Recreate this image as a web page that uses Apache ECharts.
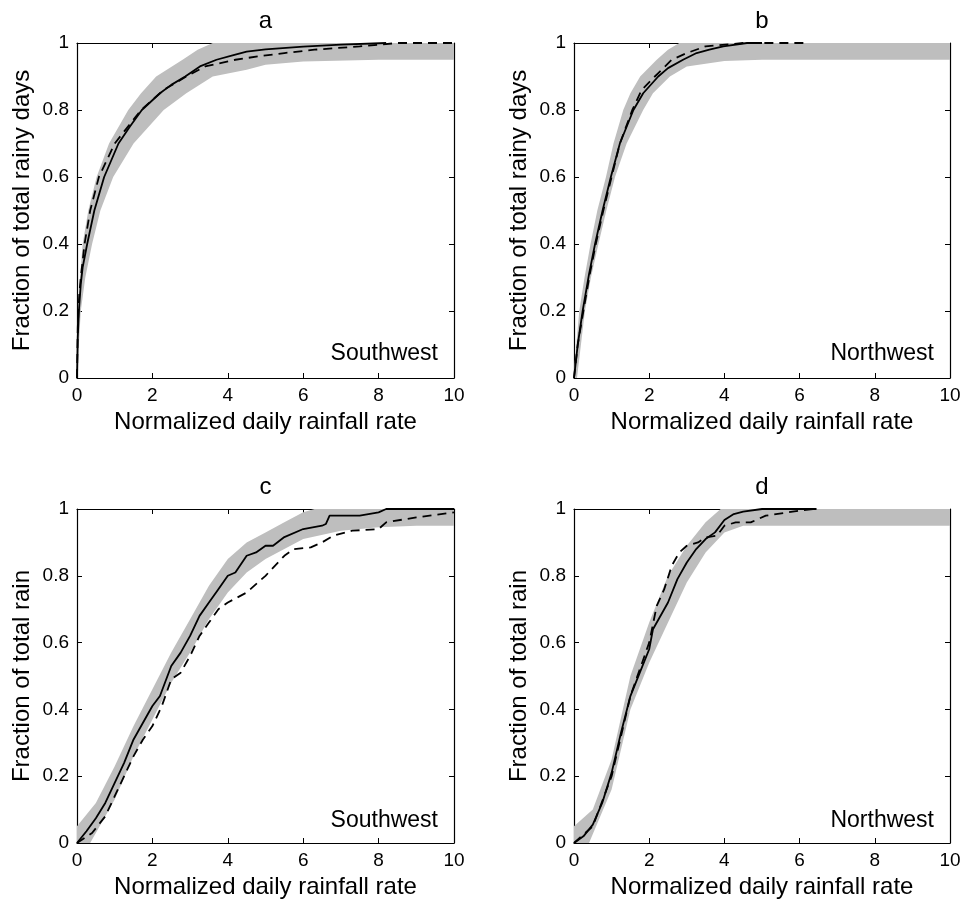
<!DOCTYPE html>
<html>
<head>
<meta charset="utf-8">
<script src="https://cdn.jsdelivr.net/npm/echarts@6/dist/echarts.min.js"></script>
<style>
html,body{margin:0;padding:0;background:#fff;}
#chart{width:966px;height:900px;}
</style>
</head>
<body>
<div id="chart"></div>
<script>
// ---- Data ----
const panelLetters = ['a', 'b', 'c', 'd'];
const regionNames = ['Southwest', 'Northwest', 'Southwest', 'Northwest'];
const yAxisTitles = ['Fraction of total rainy days', 'Fraction of total rainy days', 'Fraction of total rain', 'Fraction of total rain'];
const xAxisTitle = 'Normalized daily rainfall rate';
const xTicks = [0, 2, 4, 6, 8, 10];
const yTicks = [0, 0.2, 0.4, 0.6, 0.8, 1];

// Panel a: Southwest, fraction of rainy days
const aSolid = [[0,0],[0.02,0.12],[0.05,0.2],[0.1,0.28],[0.15,0.33],[0.27,0.4],[0.46,0.5],[0.72,0.6],[1.1,0.7],[1.4,0.75],[1.72,0.8],[2.2,0.85],[2.5,0.875],[2.87,0.9],[3.26,0.93],[3.7,0.95],[4.15,0.964],[4.5,0.974],[5.0,0.981],[6.0,0.989],[7.0,0.995],[8.2,1.0]];
const aDashed = [[0,0],[0.02,0.15],[0.06,0.25],[0.1,0.3],[0.2,0.4],[0.35,0.5],[0.58,0.6],[1.0,0.7],[1.7,0.8],[2.3,0.86],[2.9,0.9],[3.4,0.93],[4.2,0.95],[4.8,0.96],[5.5,0.97],[6.3,0.98],[7.5,0.99],[8.5,1.0],[10,1.0]];
const aBandUpper = [[0,0],[0.03,0.2],[0.08,0.3],[0.15,0.4],[0.3,0.5],[0.52,0.6],[0.85,0.7],[1.36,0.8],[1.7,0.85],[2.1,0.9],[2.8,0.95],[3.2,0.98],[3.6,1.0],[10,1.0]];
const aBandLower = [[0,0],[0.1,0.2],[0.22,0.3],[0.4,0.4],[0.62,0.5],[0.96,0.6],[1.5,0.7],[2.3,0.8],[2.9,0.85],[3.6,0.9],[4.5,0.92],[5,0.935],[6,0.945],[8,0.95],[10,0.95]];

// Panel b: Northwest, fraction of rainy days
const bSolid = [[0,0],[0.1,0.1],[0.23,0.2],[0.4,0.31],[0.56,0.4],[0.76,0.5],[0.98,0.6],[1.22,0.7],[1.58,0.8],[1.84,0.85],[2.24,0.9],[2.5,0.925],[2.9,0.95],[3.26,0.97],[3.6,0.98],[3.97,0.99],[4.6,1.0],[5.0,1.0]];
const bDashed = [[0,0],[0.1,0.1],[0.25,0.2],[0.42,0.31],[0.58,0.4],[0.78,0.5],[1.0,0.6],[1.22,0.7],[1.55,0.8],[1.8,0.86],[2.15,0.9],[2.6,0.95],[3.0,0.97],[3.5,0.99],[4.5,1.0],[6.2,1.0]];
const bBandUpper = [[0,0.02],[0.14,0.2],[0.28,0.3],[0.44,0.4],[0.62,0.5],[0.85,0.6],[1.05,0.7],[1.31,0.8],[1.5,0.85],[1.76,0.9],[2.2,0.95],[2.5,0.98],[2.8,1.0],[10,1.0]];
const bBandLower = [[0,0],[0.08,0],[0.29,0.2],[0.45,0.3],[0.65,0.4],[0.86,0.5],[1.09,0.6],[1.4,0.7],[1.84,0.8],[2.1,0.85],[2.55,0.9],[3.0,0.93],[4.0,0.946],[5.0,0.95],[10,0.95]];

// Panel c: Southwest, fraction of total rain
const cSolid = [[0,0],[0.25,0.035],[0.5,0.074],[0.75,0.12],[1,0.18],[1.25,0.24],[1.5,0.31],[1.75,0.36],[2,0.41],[2.2,0.44],[2.5,0.53],[2.75,0.57],[3,0.62],[3.25,0.68],[3.5,0.72],[3.75,0.76],[4,0.8],[4.2,0.81],[4.5,0.86],[4.75,0.87],[5,0.89],[5.2,0.89],[5.5,0.916],[6,0.94],[6.5,0.95],[6.6,0.955],[6.7,0.98],[7.5,0.98],[8.0,0.99],[8.2,1.0],[10,1.0]];
const cDashed = [[0,0],[0.4,0.03],[0.75,0.08],[1,0.14],[1.5,0.26],[1.75,0.31],[2,0.35],[2.25,0.41],[2.5,0.49],[2.75,0.51],[3,0.56],[3.25,0.62],[3.5,0.66],[3.75,0.7],[4,0.72],[4.5,0.75],[5,0.8],[5.5,0.86],[5.75,0.88],[6.2,0.885],[6.5,0.9],[6.8,0.92],[7.3,0.935],[8,0.94],[8.2,0.96],[9,0.975],[10,0.99]];
const cBandUpper = [[0,0.05],[0.5,0.12],[1,0.23],[1.5,0.35],[2,0.46],[2.5,0.57],[3,0.67],[3.5,0.77],[4,0.85],[4.5,0.9],[5,0.93],[5.5,0.96],[6,0.99],[6.3,1.0],[10,1.0]];
const cBandLower = [[0,0],[0.35,0],[0.6,0.05],[1,0.13],[1.5,0.26],[2,0.37],[2.5,0.48],[3,0.57],[3.5,0.67],[4,0.75],[4.5,0.81],[5,0.85],[5.5,0.88],[6,0.91],[7,0.935],[8,0.945],[9,0.95],[10,0.95]];

// Panel d: Northwest, fraction of total rain
const dSolid = [[0,0],[0.25,0.02],[0.5,0.055],[0.75,0.12],[1,0.21],[1.25,0.33],[1.5,0.44],[1.75,0.51],[2,0.58],[2.1,0.64],[2.25,0.67],[2.5,0.72],[2.75,0.79],[3,0.84],[3.25,0.88],[3.5,0.91],[3.75,0.93],[4,0.967],[4.25,0.985],[4.5,0.992],[5,1.0],[6.45,1.0]];
const dDashed = [[0,0],[0.5,0.05],[1,0.2],[1.5,0.44],[2,0.6],[2.2,0.71],[2.4,0.76],[2.6,0.83],[2.8,0.87],[3.0,0.89],[3.3,0.9],[3.5,0.915],[3.8,0.92],[4,0.95],[4.3,0.96],[4.7,0.96],[5.1,0.98],[6,0.995],[6.4,1.0]];
const dBandUpper = [[0,0.05],[0.5,0.1],[1,0.25],[1.5,0.5],[2,0.66],[2.5,0.8],[3,0.89],[3.5,0.96],[3.9,1.0],[10,1.0]];
const dBandLower = [[0,0],[0.4,0],[1,0.16],[1.5,0.4],[2,0.54],[2.5,0.66],[3,0.78],[3.5,0.87],[4,0.93],[4.5,0.95],[10,0.95]];

const solids = [aSolid, bSolid, cSolid, dSolid];
const dashes = [aDashed, bDashed, cDashed, dDashed];
const bandUppers = [aBandUpper, bBandUpper, cBandUpper, dBandUpper];
const bandLowers = [aBandLower, bBandLower, cBandLower, dBandLower];

// ---- Layout / style ----
const FONT = 'Liberation Sans, Arial, Helvetica, sans-serif';
const grids = [
  {left: 77, top: 43, width: 377, height: 335},
  {left: 574, top: 43, width: 376, height: 335},
  {left: 77, top: 509, width: 377, height: 336},
  {left: 574, top: 509, width: 376, height: 336}
];
const BAND = '#bebebe';

const xAxes = [], yAxes = [], series = [], graphics = [];
grids.forEach((g, i) => {
  const common = {
    type: 'value', gridIndex: i, min: 0,
    axisLine: {show: true, onZero: false, lineStyle: {color: '#000', width: 1.2}},
    axisTick: {show: true, inside: true, length: 5, lineStyle: {color: '#000', width: 1}},
    splitLine: {show: false}
  };
  xAxes.push(Object.assign({}, common, {
    position: 'bottom', max: xTicks[xTicks.length - 1], interval: xTicks[1] - xTicks[0],
    axisLabel: {show: true, color: '#000', fontSize: 19, fontFamily: FONT, margin: 8},
    name: xAxisTitle, nameLocation: 'middle', nameGap: 32,
    nameTextStyle: {color: '#000', fontSize: 24, fontFamily: FONT}
  }));
  xAxes.push(Object.assign({}, common, {
    position: 'top', max: xTicks[xTicks.length - 1], interval: xTicks[1] - xTicks[0],
    axisLabel: {show: false}
  }));
  yAxes.push(Object.assign({}, common, {
    position: 'left', max: yTicks[yTicks.length - 1], interval: yTicks[1] - yTicks[0],
    axisLabel: {show: true, color: '#000', fontSize: 19, fontFamily: FONT, margin: 8,
      formatter: v => String(Math.round(v * 10) / 10)},
    name: yAxisTitles[i], nameLocation: 'middle', nameGap: 43,
    nameTextStyle: {color: '#000', fontSize: 24, fontFamily: FONT}
  }));
  yAxes.push(Object.assign({}, common, {
    position: 'right', max: yTicks[yTicks.length - 1], interval: yTicks[1] - yTicks[0],
    axisLabel: {show: false}
  }));

  const upper = bandUppers[i], lower = bandLowers[i];
  series.push({
    type: 'custom', xAxisIndex: 2 * i, yAxisIndex: 2 * i, clip: true, silent: true, z: 1,
    data: [[0, 0]],
    renderItem: (params, api) => {
      const pts = upper.map(p => api.coord(p)).concat(lower.slice().reverse().map(p => api.coord(p)));
      return {type: 'polygon', shape: {points: pts}, style: {fill: BAND, stroke: null}};
    }
  });
  series.push({
    type: 'line', xAxisIndex: 2 * i, yAxisIndex: 2 * i, data: solids[i], showSymbol: false,
    z: 3, lineStyle: {color: '#000', width: 1.8, type: 'solid'}, clip: true
  });
  series.push({
    type: 'line', xAxisIndex: 2 * i, yAxisIndex: 2 * i, data: dashes[i], showSymbol: false,
    z: 3, lineStyle: {color: '#000', width: 1.8, type: [9, 6]}, clip: true
  });

  graphics.push({
    type: 'text', x: g.left + g.width / 2, y: g.top - 22, z: 10,
    style: {text: panelLetters[i], fontSize: 24, fontFamily: FONT, fill: '#000', align: 'center', verticalAlign: 'middle'}
  });
  graphics.push({
    type: 'text', x: g.left + g.width - 16, y: g.top + g.height - 24, z: 10,
    style: {text: regionNames[i], fontSize: 23, fontFamily: FONT, fill: '#000', align: 'right', verticalAlign: 'middle'}
  });
});

const chart = echarts.init(document.getElementById('chart'), null, {renderer: 'canvas'});
chart.setOption({
  animation: false,
  backgroundColor: '#fff',
  grid: grids,
  xAxis: xAxes,
  yAxis: yAxes,
  series: series,
  graphic: graphics
});
</script>
</body>
</html>
